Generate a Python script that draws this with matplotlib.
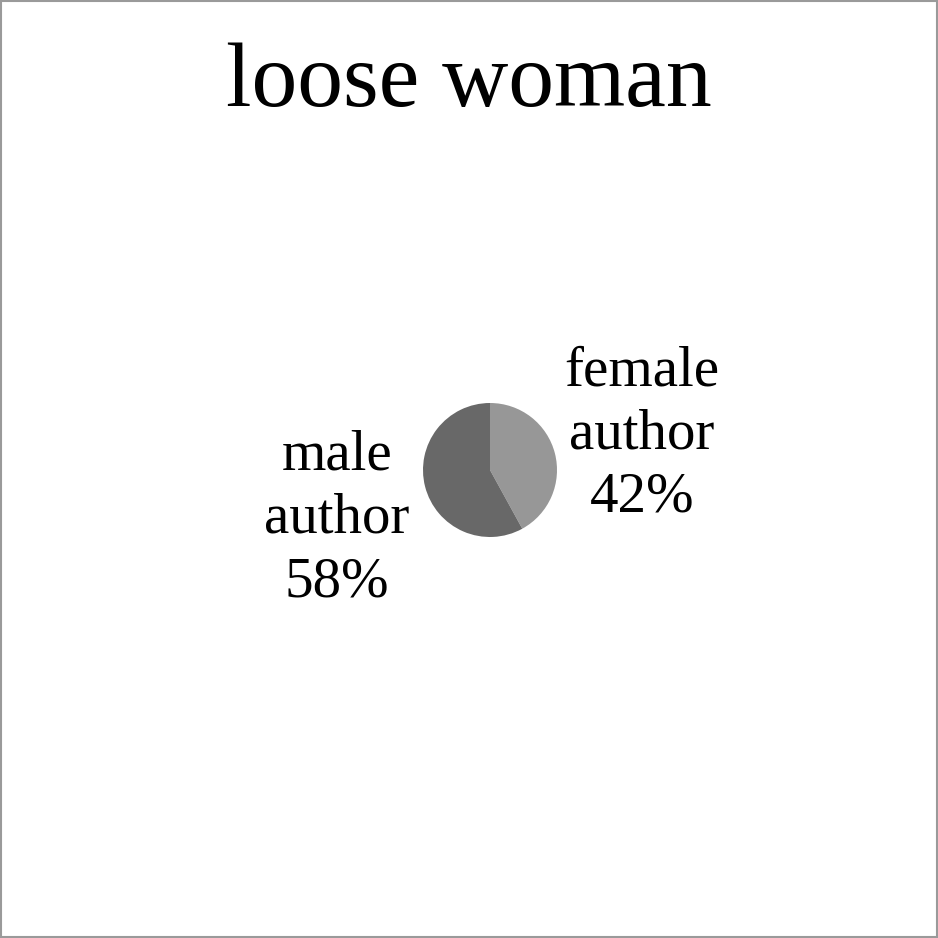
import matplotlib
matplotlib.use("Agg")
import matplotlib.pyplot as plt
from matplotlib.patches import Rectangle

title = "loose woman"
categories = ["female\nauthor", "male\nauthor"]
values = [42, 58]
colors = ["#979797", "#686868"]

W = H = 938
fig = plt.figure(figsize=(W / 100, H / 100), dpi=100)
fig.patch.set_facecolor("white")

cx, cy, r = 490, 470, 67
ax = fig.add_axes([(cx - r) / W, (H - cy - r) / H, 2 * r / W, 2 * r / H])
ax.pie(values, colors=colors, startangle=90, counterclock=False, radius=1,
       wedgeprops=dict(linewidth=0))
ax.set_xlim(-1, 1)
ax.set_ylim(-1, 1)
ax.set_aspect("equal")
ax.axis("off")

font = "Liberation Serif"
label_pos = [(642, 512), (337, 596)]
for (lx, ly), cat, v in zip(label_pos, categories, values):
    fig.text(lx / W, 1 - ly / H, f"{cat}\n{v}%", ha="center", va="baseline",
             fontsize=41, family=font, linespacing=1.28, color="black")

fig.text(469 / W, 1 - 106 / H, title, ha="center", va="baseline",
         fontsize=66, family=font, color="black")

fig.patches.append(Rectangle((0.001, 0.001), 0.998, 0.998, transform=fig.transFigure,
                             fill=False, edgecolor="#9a9a9a", linewidth=1.5))

fig.savefig("out.png", dpi=100)
